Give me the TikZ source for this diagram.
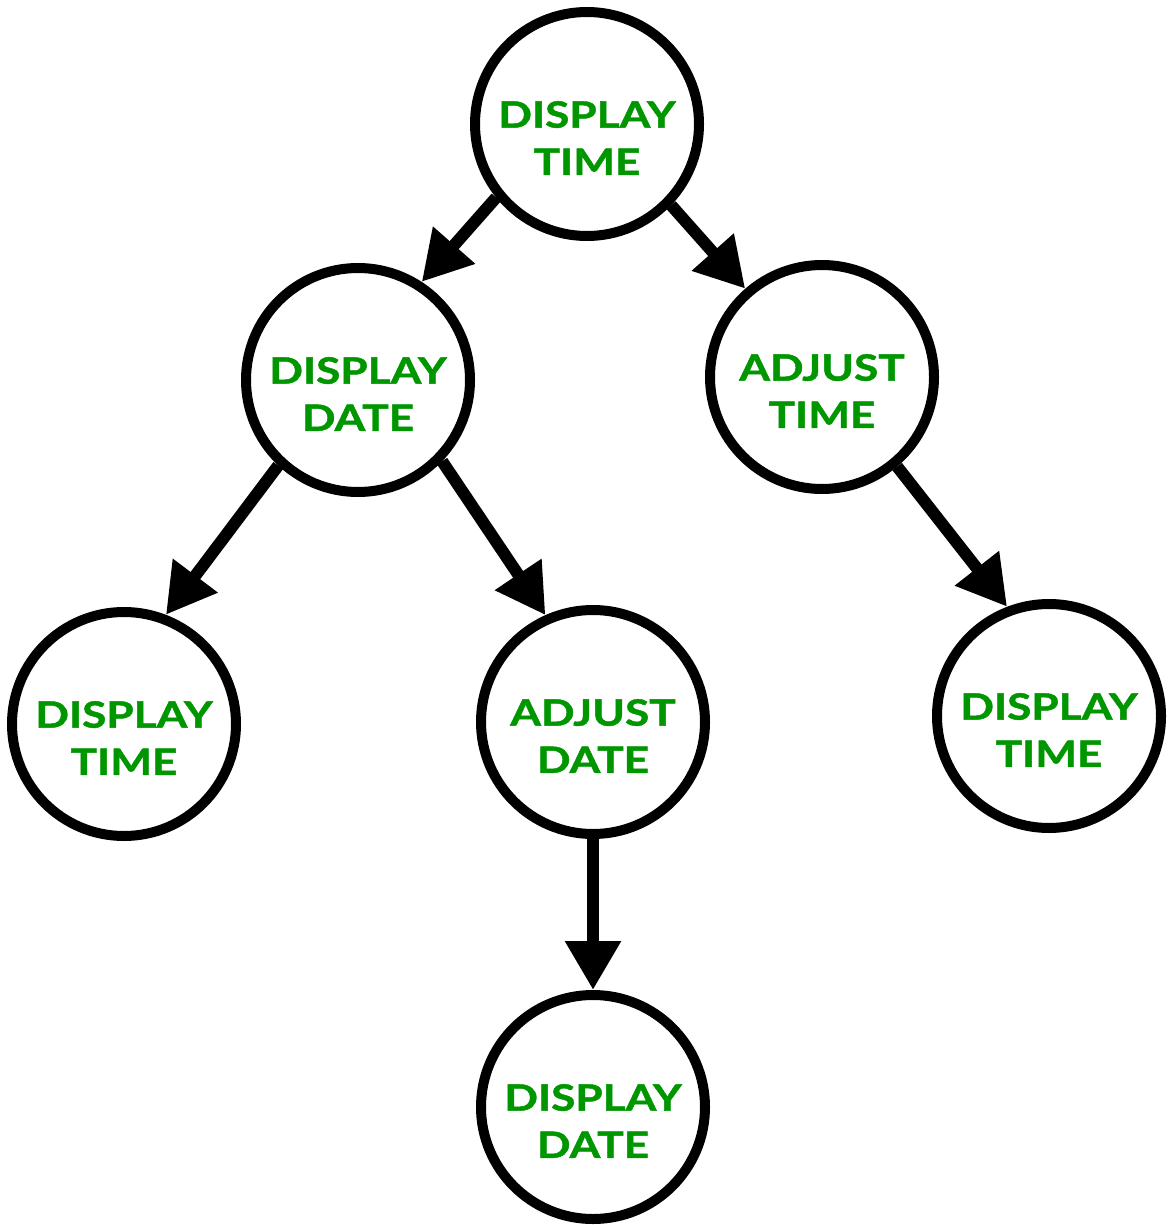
\documentclass[tikz,border=0pt]{standalone}
\usepackage{fontspec}
\usetikzlibrary{arrows.meta}
\newfontfamily\statefont{Lato}[FakeStretch=1.22,BoldFeatures={FakeBold=1.3}]
\definecolor{stategreen}{RGB}{0,150,0}
\begin{document}
\begin{tikzpicture}[x=0.5pt,y=-0.5pt,
  state/.style={circle,draw=black,line width=5pt,minimum size=112pt,inner sep=0pt,fill=white},
  statetext/.style={align=center,text=stategreen,
    font=\statefont\bfseries\fontsize{18.1}{23.6}\selectfont,inner sep=0pt},
  flow/.style={line width=6pt,-{Triangle[length=24.5pt,width=26.5pt]}}]
\useasboundingbox (0,0) rectangle (1175,1225);

% circles
\node[state] (top) at (587,124) {};
\node[state] (ddate) at (358,380) {};
\node[state] (atime) at (822,377) {};
\node[state] (ltime) at (124,724) {};
\node[state] (adate) at (593,722) {};
\node[state] (rtime) at (1049,716) {};
\node[state] (bdate) at (593,1107) {};

% labels, set a little below each centre
\node[statetext] (top-t) at ([yshift=-7pt]top.center) {DISPLAY\\TIME};
\node[statetext] (ddate-t) at ([yshift=-7pt]ddate.center) {DISPLAY\\DATE};
\node[statetext] (atime-t) at ([yshift=-7pt]atime.center) {ADJUST\\TIME};
\node[statetext] (ltime-t) at ([yshift=-7pt]ltime.center) {DISPLAY\\TIME};
\node[statetext] (adate-t) at ([yshift=-7pt]adate.center) {ADJUST\\DATE};
\node[statetext] (rtime-t) at ([yshift=-7pt]rtime.center) {DISPLAY\\TIME};
\node[statetext] (bdate-t) at ([yshift=-7pt]bdate.center) {DISPLAY\\DATE};

% transitions, leaving and entering each circle at fixed angles
\draw[flow] (top.219) -- (ddate.57.5);
\draw[flow] (top.316) -- (atime.131);
\draw[flow] (ddate.227) -- (ltime.69.5);
\draw[flow] (ddate.316) -- (adate.114);
\draw[flow] (atime.310) -- (rtime.111.5);
\draw[flow] (adate.south) -- (bdate.north);
\end{tikzpicture}
\end{document}
